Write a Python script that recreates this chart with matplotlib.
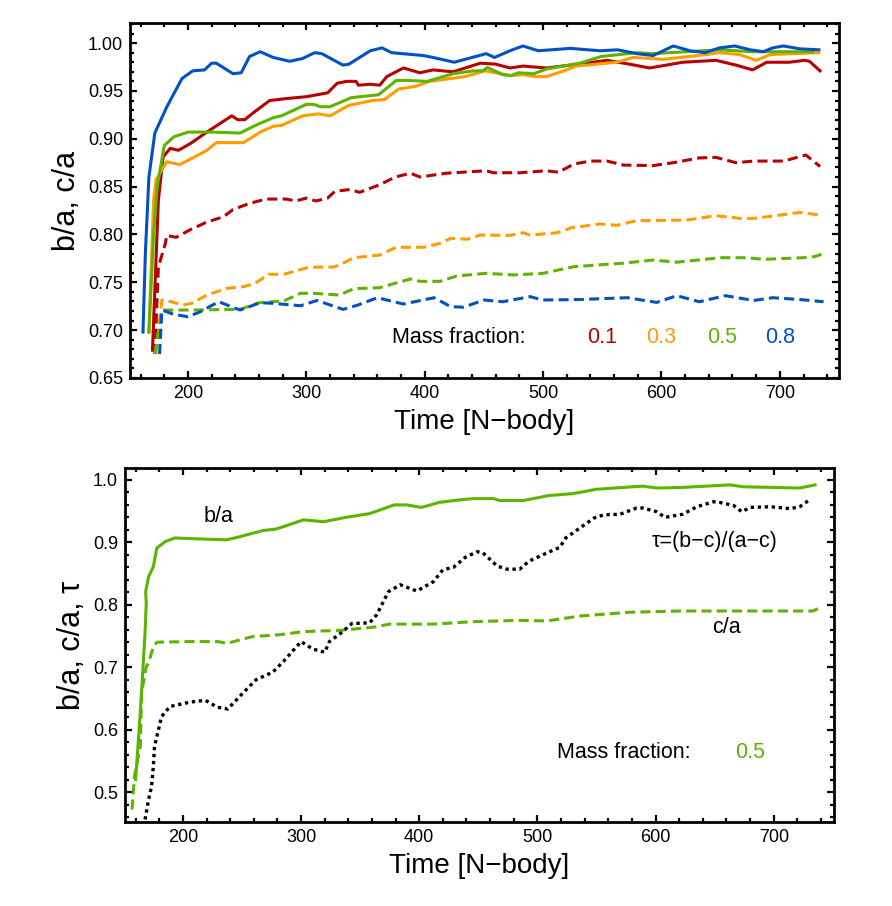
import matplotlib
matplotlib.use("Agg")
import matplotlib.pyplot as plt
from matplotlib.ticker import MultipleLocator, FormatStrFormatter

plt.rcParams['font.family'] = ['Liberation Sans', 'DejaVu Sans']

# colours for the mass fractions
c_red = "#B80000"
c_orange = "#FF9D00"
c_green = "#5DB400"
c_blue = "#0052C4"

# ---- top panel: b/a (solid) and c/a (dashed) for four mass fractions
red_b_x = [170, 175, 179, 185, 192, 202, 216, 237, 242, 248, 255, 269, 283, 300, 318,
           326, 334, 342, 344, 354, 362, 368, 382, 396, 407, 424, 447, 460, 472, 483,
           503, 523, 554, 573, 590, 604, 618, 646, 663, 677, 689, 708, 721, 725, 734]
red_b_y = [0.679, 0.836, 0.881, 0.890, 0.888, 0.895, 0.907, 0.924, 0.920, 0.920, 0.927, 0.940, 0.942, 0.944, 0.948,
           0.958, 0.960, 0.960, 0.956, 0.957, 0.956, 0.965, 0.974, 0.969, 0.972, 0.970, 0.979, 0.978, 0.974, 0.976,
           0.974, 0.977, 0.982, 0.978, 0.974, 0.977, 0.980, 0.982, 0.977, 0.972, 0.980, 0.980, 0.982, 0.981, 0.971]

orange_b_x = [167, 171, 173, 182, 193, 204, 216, 224, 247, 261, 272, 279, 297, 310, 320,
              336, 356, 366, 378, 393, 404, 434, 451, 464, 473, 483, 494, 503, 520, 528,
              562, 576, 601, 638, 649, 666, 680, 692, 733]
orange_b_y = [0.698, 0.836, 0.857, 0.876, 0.873, 0.880, 0.888, 0.896, 0.896, 0.907, 0.913, 0.914, 0.924, 0.926, 0.924,
              0.935, 0.940, 0.941, 0.952, 0.955, 0.960, 0.965, 0.971, 0.968, 0.966, 0.967, 0.965, 0.965, 0.972, 0.976,
              0.980, 0.985, 0.983, 0.988, 0.990, 0.988, 0.982, 0.988, 0.990]

green_b_x = [167, 171, 174, 180, 188, 200, 221, 244, 257, 272, 279, 300, 306, 312, 320,
             338, 361, 376, 386, 402, 424, 441, 449, 453, 466, 473, 479, 492, 503, 531,
             549, 579, 593, 649, 677, 690, 728]
green_b_y = [0.698, 0.801, 0.850, 0.893, 0.902, 0.907, 0.907, 0.906, 0.914, 0.922, 0.924, 0.936, 0.936, 0.9335, 0.9335,
             0.943, 0.946, 0.961, 0.961, 0.960, 0.968, 0.971, 0.971, 0.9745, 0.967, 0.966, 0.969, 0.968, 0.973, 0.979,
             0.986, 0.990, 0.989, 0.993, 0.991, 0.991, 0.991]

blue_b_x = [162, 164, 167, 172, 182, 188, 195, 204, 214, 220, 224, 238, 245, 252, 261,
            272, 286, 297, 307, 313, 331, 336, 354, 364, 372, 399, 407, 425, 452, 459,
            472, 483, 496, 523, 548, 563, 579, 593, 610, 624, 637, 649, 662, 675, 686,
            694, 703, 717, 733]
blue_b_y = [0.698, 0.780, 0.860, 0.906, 0.933, 0.947, 0.963, 0.971, 0.972, 0.979, 0.979, 0.968, 0.969, 0.986, 0.991,
            0.985, 0.981, 0.984, 0.990, 0.989, 0.977, 0.978, 0.992, 0.995, 0.990, 0.987, 0.985, 0.980, 0.989, 0.985,
            0.992, 0.997, 0.992, 0.9945, 0.992, 0.993, 0.989, 0.987, 0.997, 0.992, 0.990, 0.995, 0.997, 0.993, 0.991,
            0.995, 0.997, 0.994, 0.993]

red_c_x = [172, 175, 181, 182, 190, 202, 216, 230, 238, 252, 266, 283, 291, 300, 308,
           318, 324, 337, 345, 362, 375, 388, 396, 418, 452, 458, 480, 503, 513, 526,
           540, 554, 568, 593, 610, 632, 646, 663, 678, 703, 722, 734]
red_c_y = [0.675, 0.766, 0.791, 0.799, 0.797, 0.805, 0.813, 0.8185, 0.826, 0.8325, 0.837, 0.837, 0.835, 0.838, 0.835,
           0.838, 0.845, 0.847, 0.844, 0.852, 0.860, 0.864, 0.860, 0.864, 0.8666, 0.8645, 0.8645, 0.8666, 0.865, 0.8736,
           0.8767, 0.8767, 0.8725, 0.872, 0.875, 0.880, 0.8806, 0.875, 0.8767, 0.8767, 0.883, 0.871]

orange_c_x = [173, 178, 183, 196, 203, 216, 233, 247, 257, 268, 281, 302, 323, 328, 340,
              362, 376, 399, 413, 422, 436, 447, 472, 483, 489, 512, 524, 548, 562, 579,
              621, 646, 669, 680, 717, 732]
orange_c_y = [0.675, 0.7315, 0.7305, 0.7263, 0.728, 0.7367, 0.7437, 0.7454, 0.749, 0.7584, 0.7584, 0.7657, 0.766, 0.768, 0.7757,
              0.7785, 0.7866, 0.7866, 0.7907, 0.796, 0.795, 0.7994, 0.799, 0.8018, 0.7994, 0.8018, 0.807, 0.811, 0.8095, 0.8144,
              0.815, 0.8196, 0.8165, 0.817, 0.823, 0.8206]

green_c_x = [172, 178, 188, 202, 244, 260, 281, 295, 306, 328, 340, 362, 388, 396, 413,
             427, 452, 475, 500, 526, 554, 568, 593, 613, 650, 672, 686, 720, 729, 738]
green_c_y = [0.675, 0.721, 0.721, 0.721, 0.7217, 0.7287, 0.7305, 0.7385, 0.7385, 0.7367, 0.7433, 0.7444, 0.7535, 0.751, 0.751,
             0.7566, 0.7594, 0.7577, 0.7594, 0.7663, 0.7688, 0.770, 0.7733, 0.771, 0.7757, 0.7757, 0.774, 0.7757, 0.7768, 0.7803]

blue_c_x = [176, 178, 188, 200, 210, 226, 244, 261, 272, 295, 309, 331, 343, 360, 382,
            408, 422, 433, 450, 466, 489, 500, 531, 571, 596, 613, 632, 654, 678, 694,
            717, 737]
blue_c_y = [0.675, 0.721, 0.7165, 0.714, 0.719, 0.7297, 0.721, 0.7287, 0.728, 0.7255, 0.731, 0.7217, 0.726, 0.7339, 0.7273,
            0.7339, 0.7245, 0.724, 0.7315, 0.7297, 0.735, 0.7315, 0.732, 0.7339, 0.729, 0.736, 0.7297, 0.736, 0.731, 0.7339,
            0.732, 0.7297]

fractions = ["0.1", "0.3", "0.5", "0.8"]

# ---- bottom panel: mass fraction 0.5 only
ba_x = [160, 163, 165, 168, 169, 168.5, 171, 175, 178, 185, 193, 206, 237, 246, 268,
        278, 285, 302, 319, 338, 358, 379, 389, 402, 417, 434, 446, 463, 468, 488,
        510, 530, 550, 589, 601, 623, 663, 674, 722, 735]
ba_y = [0.52, 0.60, 0.659, 0.755, 0.803, 0.821, 0.845, 0.861, 0.891, 0.901, 0.907, 0.906, 0.904, 0.908, 0.919,
        0.921, 0.925, 0.936, 0.933, 0.940, 0.946, 0.960, 0.960, 0.956, 0.964, 0.968, 0.970, 0.970, 0.967, 0.967,
        0.975, 0.978, 0.985, 0.990, 0.987, 0.988, 0.992, 0.989, 0.987, 0.992]

ca_x = [157, 159, 164, 165, 169, 171, 175, 178, 206, 230, 237, 259, 282, 302, 333,
        361, 375, 412, 446, 485, 508, 536, 578, 621, 733, 738]
ca_y = [0.472, 0.525, 0.573, 0.659, 0.701, 0.707, 0.733, 0.740, 0.741, 0.741, 0.738, 0.749, 0.752, 0.757, 0.759,
        0.764, 0.769, 0.769, 0.773, 0.775, 0.774, 0.782, 0.788, 0.790, 0.790, 0.794]

tau_x = [168, 171, 173.5, 175, 176, 182, 189, 206, 219, 229, 238, 251, 262, 276, 285,
         300, 310, 320, 324, 334, 343, 358, 364, 374, 384, 398, 412, 420, 429, 439,
         449, 454, 466, 474, 485, 493, 508, 519, 524, 536, 548, 556, 570, 584, 589,
         601, 608, 623, 635, 649, 654, 666, 673, 680, 697, 714, 722, 731]
tau_y = [0.456, 0.488, 0.509, 0.541, 0.573, 0.621, 0.637, 0.644, 0.647, 0.636, 0.633, 0.659, 0.680, 0.692, 0.709,
         0.741, 0.729, 0.724, 0.741, 0.755, 0.770, 0.771, 0.784, 0.821, 0.832, 0.822, 0.837, 0.856, 0.860, 0.876,
         0.885, 0.883, 0.862, 0.857, 0.857, 0.870, 0.883, 0.892, 0.907, 0.923, 0.939, 0.944, 0.945, 0.955, 0.955,
         0.949, 0.940, 0.945, 0.957, 0.965, 0.964, 0.959, 0.949, 0.956, 0.957, 0.954, 0.957, 0.969]


def style_axes(ax):
    for s in ax.spines.values():
        s.set_linewidth(2.0)
    ax.tick_params(which="both", direction="in", top=True, right=True, width=1.6, labelsize=13, pad=5)
    ax.tick_params(which="major", length=5)
    ax.tick_params(which="minor", length=3)
    ax.xaxis.set_major_locator(MultipleLocator(100))
    ax.xaxis.set_minor_locator(MultipleLocator(20))


fig = plt.figure(figsize=(8.92, 9.06), dpi=100)
ax1 = fig.add_axes([0.1457, 0.5828, 0.9406 - 0.1457, 0.9746 - 0.5828])
ax2 = fig.add_axes([0.1401, 0.0927, 0.9350 - 0.1401, 0.4834 - 0.0927])

lw = 2.2
dash = (0, (3.3, 1.7))
ax1.plot(red_b_x, red_b_y, color=c_red, lw=lw)
ax1.plot(orange_b_x, orange_b_y, color=c_orange, lw=lw)
ax1.plot(green_b_x, green_b_y, color=c_green, lw=lw)
ax1.plot(blue_b_x, blue_b_y, color=c_blue, lw=lw)
ax1.plot(red_c_x, red_c_y, color=c_red, lw=lw, ls=dash)
ax1.plot(orange_c_x, orange_c_y, color=c_orange, lw=lw, ls=dash)
ax1.plot(green_c_x, green_c_y, color=c_green, lw=lw, ls=dash)
ax1.plot(blue_c_x, blue_c_y, color=c_blue, lw=lw, ls=dash)

ax1.set_xlim(151, 750)
ax1.set_ylim(0.65, 1.021)
style_axes(ax1)
ax1.yaxis.set_major_locator(MultipleLocator(0.05))
ax1.yaxis.set_minor_locator(MultipleLocator(0.01))
ax1.yaxis.set_major_formatter(FormatStrFormatter("%.2f"))
ax1.set_xlabel("Time [N\u2212body]", fontsize=20, labelpad=5)
ax1.set_ylabel("b/a, c/a", fontsize=22, labelpad=4)

ax1.text(372, 0.692, "Mass fraction:", fontsize=15.5, va="center", ha="left")
for xpos, lab, col in zip([550, 600, 651, 700], fractions, [c_red, c_orange, c_green, c_blue]):
    ax1.text(xpos, 0.692, lab, fontsize=15.5, va="center", ha="center", color=col)

ax2.plot(ba_x, ba_y, color=c_green, lw=lw)
ax2.plot(ca_x, ca_y, color=c_green, lw=lw, ls=dash)
ax2.plot(tau_x, tau_y, color="black", lw=2.4, ls=(0, (1, 1.1)))

ax2.set_xlim(151, 751)
ax2.set_ylim(0.452, 1.019)
style_axes(ax2)
ax2.yaxis.set_major_locator(MultipleLocator(0.1))
ax2.yaxis.set_minor_locator(MultipleLocator(0.02))
ax2.yaxis.set_major_formatter(FormatStrFormatter("%.1f"))
ax2.set_xlabel("Time [N\u2212body]", fontsize=20, labelpad=5)
ax2.set_ylabel("b/a, c/a, \u03c4", fontsize=22, labelpad=4)

ax2.text(230, 0.941, "b/a", fontsize=15.5, va="center", ha="center")
ax2.text(650, 0.901, "\u03c4=(b\u2212c)/(a\u2212c)", fontsize=15.5, va="center", ha="center")
ax2.text(660, 0.763, "c/a", fontsize=15.5, va="center", ha="center")
ax2.text(517, 0.563, "Mass fraction:", fontsize=15.5, va="center", ha="left")
ax2.text(680, 0.563, "0.5", fontsize=15.5, va="center", ha="center", color=c_green)

fig.savefig("out.png", dpi=100)
